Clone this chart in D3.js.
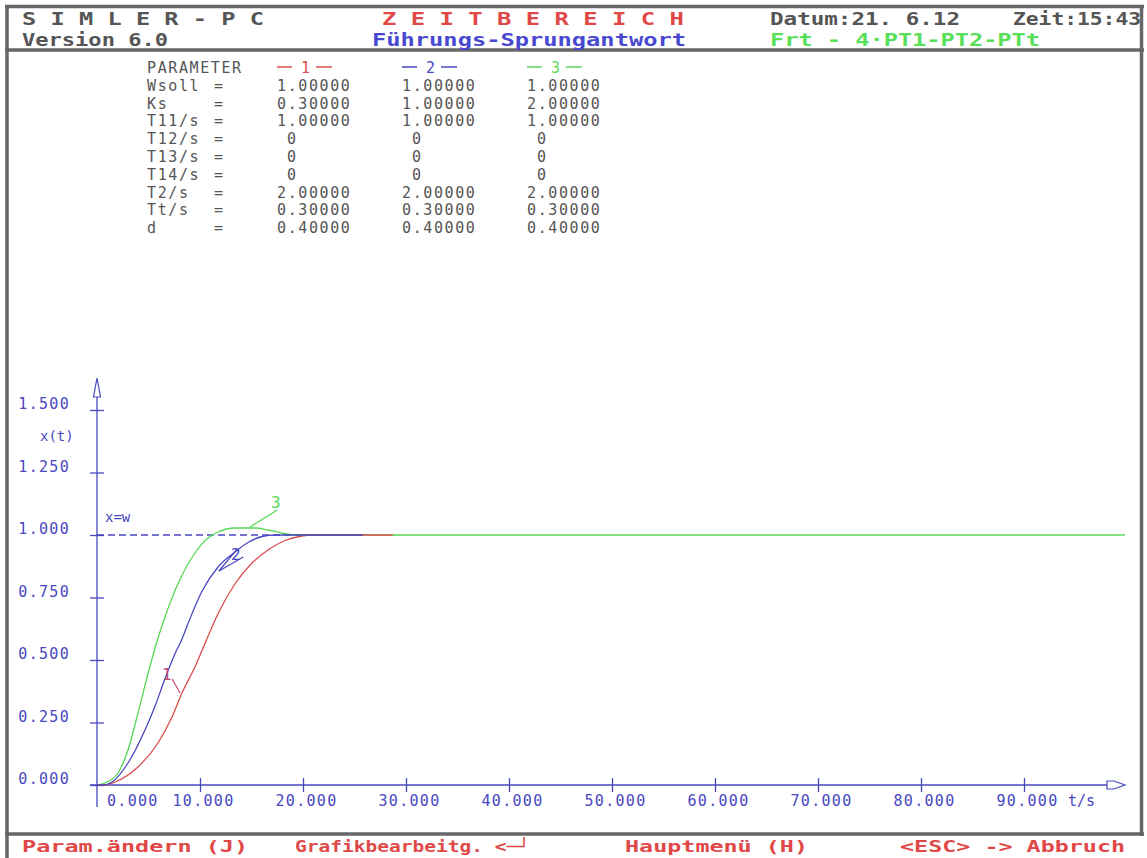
<!DOCTYPE html>
<html>
<head>
<meta charset="utf-8">
<script src="https://cdn.jsdelivr.net/npm/d3@7"></script>
<style>
  body { margin: 0; background: #fff; }
  text { font-family: "DejaVu Sans Mono", "Liberation Mono", monospace; }
</style>
</head>
<body>
<div id="chart"></div>
<script>
var W = 1147, H = 858;

// x ticks (t/s) and y ticks (x(t))
var tTicks = [0, 10, 20, 30, 40, 50, 60, 70, 80, 90];
var yTicks = [0, 0.25, 0.5, 0.75, 1.0, 1.25, 1.5];

// parameter table
var paramNames = ["Wsoll", "Ks", "T11/s", "T12/s", "T13/s", "T14/s", "T2/s", "Tt/s", "d"];
var param1 = ["1.00000", "0.30000", "1.00000", "0", "0", "0", "2.00000", "0.30000", "0.40000"];
var param2 = ["1.00000", "1.00000", "1.00000", "0", "0", "0", "2.00000", "0.30000", "0.40000"];
var param3 = ["1.00000", "2.00000", "1.00000", "0", "0", "0", "2.00000", "0.30000", "0.40000"];

// step responses: [t, x]
var curve1 = [[0,0],[0.8,0],[1.75,0.012],[3.98,0.072],[5.92,0.168],[7.28,0.272],[8.25,0.368],
  [9.51,0.472],[10.68,0.585],[11.75,0.685],[13.4,0.805],[15.05,0.888],[16.6,0.94],[18.25,0.978],
  [19.9,0.996],[20.87,1.0],[28.7,1.0]];
var curve2 = [[0,0],[0.6,0],[1.46,0.012],[3.01,0.088],[4.66,0.22],[5.63,0.315],[6.6,0.425],
  [7.57,0.525],[8.16,0.575],[8.83,0.645],[10.19,0.775],[11.75,0.872],[13.4,0.932],[14.66,0.97],
  [16.02,0.994],[17.28,1.0],[25.8,1.0]];
var curve3 = [[0,0],[0.78,0.008],[2.04,0.048],[3.01,0.14],[3.98,0.288],[4.95,0.445],[5.83,0.575],
  [6.6,0.672],[7.86,0.805],[9.51,0.928],[10.78,0.988],[11.75,1.012],[13.4,1.028],[15.34,1.028],
  [16.6,1.02],[17.96,1.008],[19.5,1.0],[99.8,1.0]];

var red = "#d85050", blue = "#4848c0", green = "#58d858", gray = "#555";

var svg = d3.select("#chart").append("svg")
  .attr("width", W).attr("height", H);
svg.append("rect").attr("width", W).attr("height", H).attr("fill", "#fff");

// frame
var frame = svg.append("g").attr("stroke", "#666").attr("stroke-width", 3.5).attr("fill", "none");
frame.append("line").attr("x1", 7).attr("x2", 7).attr("y1", 5).attr("y2", H);
frame.append("line").attr("x1", 5).attr("x2", 1144).attr("y1", 6.5).attr("y2", 6.5);
frame.append("line").attr("x1", 1141.5).attr("x2", 1141.5).attr("y1", 5).attr("y2", 836);
frame.append("line").attr("x1", 5).attr("x2", 1144).attr("y1", 50).attr("y2", 50);
frame.append("line").attr("x1", 5).attr("x2", 1144).attr("y1", 834).attr("y2", 834);

function fitText(g, str, x, y, len, color, size, weight) {
  return g.append("text").attr("x", x).attr("y", y)
    .attr("textLength", len).attr("lengthAdjust", "spacingAndGlyphs")
    .attr("fill", color).style("font-size", size + "px").style("font-weight", weight || "bold")
    .text(str);
}

// header
fitText(svg, "S I M L E R - P C", 22, 25, 242, gray, 17);
fitText(svg, "Version 6.0", 22, 46, 146, gray, 17);
fitText(svg, "Z E I T B E R E I C H", 382, 25, 302, "#e04848", 17);
fitText(svg, "Führungs-Sprungantwort", 372, 46, 314, "#4848d0", 17);
fitText(svg, "Datum:21. 6.12", 770, 25, 190, gray, 17);
fitText(svg, "Zeit:15:43", 1013, 25, 128, gray, 17);
fitText(svg, "Frt - 4·PT1-PT2-PTt", 770, 46, 270, "#58e058", 17);

// footer
fitText(svg, "Param.ändern (J)", 22, 852, 226, "#e04848", 16);
fitText(svg, "Grafikbearbeitg. <─┘", 295, 852, 235, "#e04848", 16);
fitText(svg, "Hauptmenü (H)", 625, 852, 183, "#e04848", 16);
fitText(svg, "<ESC> -> Abbruch", 900, 852, 225, "#e04848", 16);

// parameter table
var tab = svg.append("g").attr("fill", gray).style("font-size", "15px").style("letter-spacing", "1.6px");
var rowY = function(i) { return 73 + i * 17.8; };
tab.append("text").attr("x", 147).attr("y", rowY(0)).text("PARAMETER");
var cols = [{x: 277, vals: param1, c: red, n: "1"}, {x: 402, vals: param2, c: blue, n: "2"}, {x: 527, vals: param3, c: green, n: "3"}];
cols.forEach(function(col) {
  tab.append("line").attr("x1", col.x).attr("x2", col.x + 15).attr("y1", rowY(0) - 6).attr("y2", rowY(0) - 6)
    .attr("stroke", col.c).attr("stroke-width", 1.5);
  tab.append("line").attr("x1", col.x + 39).attr("x2", col.x + 55).attr("y1", rowY(0) - 6).attr("y2", rowY(0) - 6)
    .attr("stroke", col.c).attr("stroke-width", 1.5);
  tab.append("text").attr("x", col.x + 24).attr("y", rowY(0)).attr("fill", col.c).text(col.n);
  col.vals.forEach(function(v, i) {
    tab.append("text").attr("x", v === "0" ? col.x + 10 : col.x).attr("y", rowY(i + 1)).text(v);
  });
});
paramNames.forEach(function(n, i) {
  tab.append("text").attr("x", 147).attr("y", rowY(i + 1)).text(n);
  tab.append("text").attr("x", 214).attr("y", rowY(i + 1)).text("=");
});

// plot
var x = d3.scaleLinear().domain([0, 100]).range([97, 1127]);
var y = d3.scaleLinear().domain([0, 1.5]).range([785, 410]);
var plot = svg.append("g");
var axisFont = {size: "15px", ls: "1.3px"};

// x axis
var xAxis = plot.append("g").attr("transform", "translate(0," + y(0) + ")")
  .call(d3.axisBottom(x).tickValues(tTicks.slice(1)).tickSize(7).tickFormat(d3.format(".3f")));
xAxis.select(".domain").remove();
xAxis.selectAll(".tick line").attr("y1", -7).attr("stroke", blue).attr("stroke-width", 1.3);
xAxis.selectAll(".tick text").attr("y", 21).attr("dy", 0).attr("dx", 3).attr("fill", blue)
  .style("font-size", axisFont.size).style("letter-spacing", axisFont.ls).style("font-family", "DejaVu Sans Mono");
plot.append("text").attr("x", x(0) + 10).attr("y", y(0) + 21).attr("fill", blue)
  .style("font-size", axisFont.size).style("letter-spacing", axisFont.ls).text(d3.format(".3f")(tTicks[0]));
plot.append("line").attr("x1", 90).attr("x2", 1107).attr("y1", y(0)).attr("y2", y(0))
  .attr("stroke", blue).attr("stroke-width", 1.3);
plot.append("path").attr("d", "M1107,781 L1114,781 L1125,785 L1114,789 L1107,789 Z")
  .attr("fill", "none").attr("stroke", blue).attr("stroke-width", 1.2);
plot.append("text").attr("x", 1068).attr("y", y(0) + 21).attr("fill", blue)
  .style("font-size", axisFont.size).text("t/s");

// y axis
var yAxis = plot.append("g").attr("transform", "translate(" + x(0) + ",0)")
  .call(d3.axisLeft(y).tickValues(yTicks).tickSize(7).tickFormat(d3.format(".3f")));
yAxis.select(".domain").remove();
yAxis.selectAll(".tick line").attr("x1", 7).attr("stroke", blue).attr("stroke-width", 1.3);
yAxis.selectAll(".tick text").attr("x", -27).attr("dy", "-0.1em").attr("fill", blue)
  .style("font-size", axisFont.size).style("letter-spacing", axisFont.ls).style("font-family", "DejaVu Sans Mono");
plot.append("line").attr("x1", x(0)).attr("x2", x(0)).attr("y1", 397).attr("y2", 807)
  .attr("stroke", blue).attr("stroke-width", 1.3);
plot.append("path").attr("d", "M97,378 L93.5,397 L100.5,397 Z")
  .attr("fill", "none").attr("stroke", blue).attr("stroke-width", 1.2);
plot.append("text").attr("x", 40).attr("y", 441).attr("fill", blue).style("font-size", "14px").text("x(t)");
plot.append("text").attr("x", 105).attr("y", 522).attr("fill", blue).style("font-size", "14px").text("x=w");

// setpoint line
plot.append("line").attr("x1", x(0)).attr("x2", x(22)).attr("y1", y(1)).attr("y2", y(1))
  .attr("stroke", blue).attr("stroke-width", 1.3).attr("stroke-dasharray", "7,4");

// curves
var line = d3.line().x(function(d) { return x(d[0]); }).y(function(d) { return y(d[1]); })
  .curve(d3.curveMonotoneX);
[[curve3, green], [curve1, red], [curve2, blue]].forEach(function(s) {
  plot.append("path").datum(s[0]).attr("d", line)
    .attr("fill", "none").attr("stroke", s[1]).attr("stroke-width", 1.3);
});

// curve labels with leaders
var labels = [
  {n: "3", c: green, at: [16.9, 1.11], from: [[17.5, 1.1]], to: [14.85, 1.032]},
  {n: "2", c: blue, at: [13.0, 0.9], from: [[14.2, 0.912], [13.6, 0.944]], to: [11.84, 0.856]},
  {n: "1", c: "#c04870", at: [6.3, 0.42], from: [[7.3, 0.424]], to: [8.06, 0.368]}
];
labels.forEach(function(l) {
  plot.append("text").attr("x", x(l.at[0])).attr("y", y(l.at[1])).attr("fill", l.c)
    .style("font-size", "16px").text(l.n);
  l.from.forEach(function(f) {
    plot.append("line").attr("x1", x(f[0])).attr("y1", y(f[1])).attr("x2", x(l.to[0])).attr("y2", y(l.to[1]))
      .attr("stroke", l.c).attr("stroke-width", 1.2);
  });
});
</script>
</body>
</html>
